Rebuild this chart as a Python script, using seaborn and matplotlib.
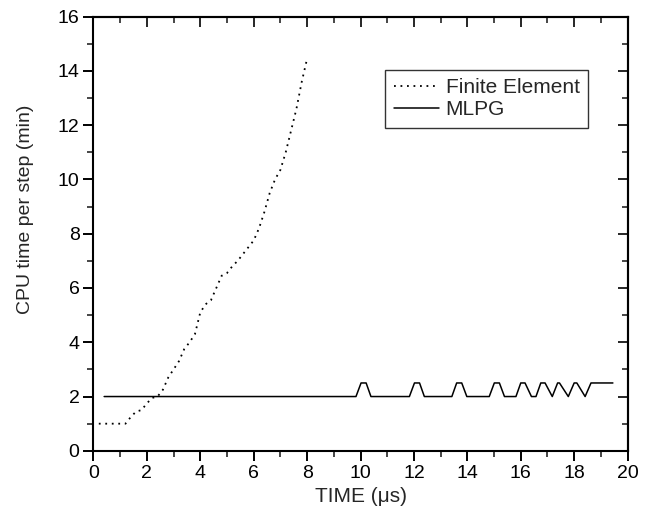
import matplotlib
matplotlib.use("Agg")
import matplotlib.pyplot as plt
import seaborn as sns
import pandas as pd
from matplotlib.ticker import MultipleLocator

# Data
fe_time = [0.2, 1.2, 1.4, 1.6, 1.8, 2.0, 2.2, 2.4, 2.6, 2.8, 3.0, 3.2, 3.4, 3.6, 3.8,
           4.0, 4.2, 4.4, 4.6, 4.8, 5.0, 5.2, 5.4, 5.6, 5.8, 6.0, 6.2, 6.4, 6.6, 6.8,
           7.0, 7.2, 7.4, 7.6, 7.8, 8.0]
fe_cpu = [1.0, 1.0, 1.25, 1.45, 1.5, 1.75, 1.95, 2.0, 2.25, 2.7, 3.0, 3.3, 3.75, 4.0, 4.3,
          5.1, 5.4, 5.55, 6.0, 6.45, 6.55, 6.8, 7.0, 7.25, 7.5, 7.75, 8.2, 8.8, 9.5, 10.0,
          10.35, 11.0, 11.8, 12.6, 13.6, 14.45]

mlpg_time = [0.4, 9.83, 10.02, 10.21, 10.39, 11.83, 12.02, 12.21, 12.39, 13.42, 13.6,
             13.79, 13.98, 14.82, 15.01, 15.2, 15.39, 15.82, 16.0, 16.16, 16.4, 16.57,
             16.75, 16.91, 17.18, 17.38, 17.45, 17.78, 18.0, 18.1, 18.41, 18.63, 19.45]
mlpg_cpu = [2.0, 2.0, 2.5, 2.5, 2.0, 2.0, 2.5, 2.5, 2.0, 2.0, 2.5, 2.5, 2.0, 2.0, 2.5,
            2.5, 2.0, 2.0, 2.5, 2.5, 2.0, 2.0, 2.5, 2.5, 2.0, 2.5, 2.5, 2.0, 2.5, 2.5,
            2.0, 2.5, 2.5]

series_names = ["Finite Element", "MLPG"]
x_ticks = list(range(0, 21, 2))
y_ticks = list(range(0, 17, 2))

sns.set_theme(style="ticks")
plt.rcParams['font.family'] = ['Liberation Sans', 'DejaVu Sans']

fig = plt.figure(figsize=(6.49, 5.17), dpi=100)
ax = fig.add_axes([0.144, 0.128, 0.823, 0.840])

fe_df = pd.DataFrame({"t": fe_time, "v": fe_cpu})
ml_df = pd.DataFrame({"t": mlpg_time, "v": mlpg_cpu})

sns.lineplot(data=fe_df, x="t", y="v", ax=ax, color="black", lw=1.3,
             linestyle=(0, (1, 2.6)), estimator=None, sort=False, label=series_names[0])
sns.lineplot(data=ml_df, x="t", y="v", ax=ax, color="black", lw=1.1,
             estimator=None, sort=False, label=series_names[1])

ax.set_xlim(0, 20)
ax.set_ylim(0, 16)
ax.set_xticks(x_ticks)
ax.set_yticks(y_ticks)
ax.xaxis.set_minor_locator(MultipleLocator(1))
ax.yaxis.set_minor_locator(MultipleLocator(1))
ax.tick_params(which="major", direction="out", length=7, width=1.4, labelsize=14,
               colors="black", pad=3)
ax.tick_params(which="minor", direction="out", length=4, width=1.2)

for s in ax.spines.values():
    s.set_linewidth(1.5)
    s.set_color("black")

# mirrored inward ticks on top and right
top = ax.secondary_xaxis("top")
top.set_xticks(x_ticks)
top.xaxis.set_minor_locator(MultipleLocator(1))
top.tick_params(which="major", direction="in", length=7, width=1.4, labeltop=False)
top.tick_params(which="minor", direction="in", length=4, width=1.2)
top.spines["top"].set_linewidth(1.5)
right = ax.secondary_yaxis("right")
right.set_yticks(y_ticks)
right.yaxis.set_minor_locator(MultipleLocator(1))
right.tick_params(which="major", direction="in", length=7, width=1.4, labelright=False)
right.tick_params(which="minor", direction="in", length=4, width=1.2)
right.spines["right"].set_linewidth(1.5)

ax.set_xlabel("TIME (\u03bcs)", fontsize=15, labelpad=4)
ax.set_ylabel("CPU time per step (min)", fontsize=14)
ax.yaxis.set_label_coords(-0.112, 0.555)

leg = ax.legend(loc="upper right", bbox_to_anchor=(0.926, 0.877), fontsize=15,
                frameon=True, fancybox=False, edgecolor="black", handlelength=2.2,
                handletextpad=0.3, borderpad=0.4, labelspacing=0.15,
                borderaxespad=0)
leg.get_frame().set_linewidth(1.0)

fig.savefig("out.png", dpi=100)
